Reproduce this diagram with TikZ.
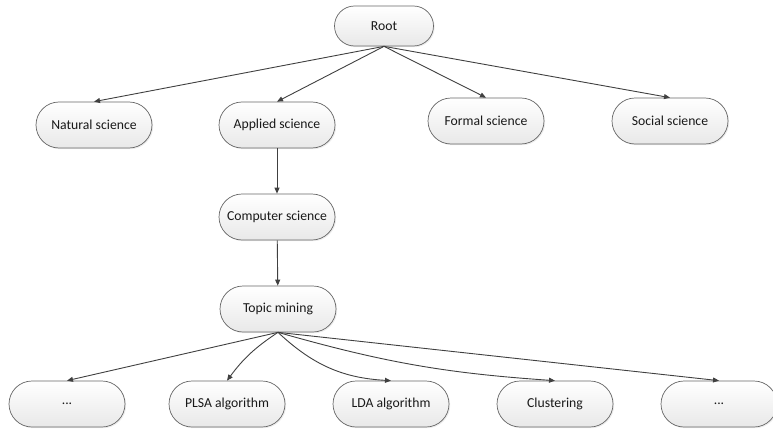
\documentclass[tikz,border=0pt]{standalone}
\usepackage{fontspec}
\setmainfont{Carlito}
\usetikzlibrary{arrows.meta,shadows}
\tikzset{
  pill/.style={draw=black!60, line width=0.7pt, rounded corners=23pt,
    minimum width=116pt, minimum height=46pt, inner sep=0pt,
    top color=white, bottom color=black!9,
    drop shadow={shadow xshift=1.2pt, shadow yshift=-1.2pt, opacity=0.15},
    font=\fontsize{13.7pt}{15pt}\selectfont, text=black!90},
  rootpill/.style={pill, rounded corners=20pt, minimum width=99pt, minimum height=40pt},
  conn/.style={draw=black!75, line width=0.9pt, -{Triangle[length=6pt,width=5pt]}}
}
\begin{document}
\begin{tikzpicture}[x=1pt,y=1pt]
\useasboundingbox (0,0) rectangle (773,-428);
\node[rootpill] (root) at (384,-26) {Root};
\node[pill] (nat) at (94,-125) {Natural science};
\node[pill] (app) at (277,-125) {Applied science};
\node[pill] (for) at (486,-121) {Formal science};
\node[pill] (soc) at (670,-121) {Social science};
\node[pill] (cs) at (277,-217) {Computer science};
\node[pill] (tm) at (278,-309) {Topic mining};
\node[pill] (d1) at (67,-404) {...};
\node[pill] (plsa) at (227,-404) {PLSA algorithm};
\node[pill] (lda) at (391,-404) {LDA algorithm};
\node[pill] (clu) at (555,-404) {Clustering};
\node[pill] (d2) at (719,-404) {...};
\draw[conn] (root.south) -- (nat.north);
\draw[conn] (root.south) -- (app.north);
\draw[conn] (root.south) -- (for.north);
\draw[conn] (root.south) -- (soc.north);
\draw[conn] (app) -- (cs);
\draw[conn] (cs) -- (tm);
\draw[conn] (tm.south) -- (d1.north);
\draw[conn] (tm.south) to[bend right=10] (plsa.north);
\draw[conn] (tm.south) to[bend right=20] (lda.north);
\draw[conn] (tm.south) to[bend right=6] (clu.north);
\draw[conn] (tm.south) -- (d2.north);
\end{tikzpicture}
\end{document}
